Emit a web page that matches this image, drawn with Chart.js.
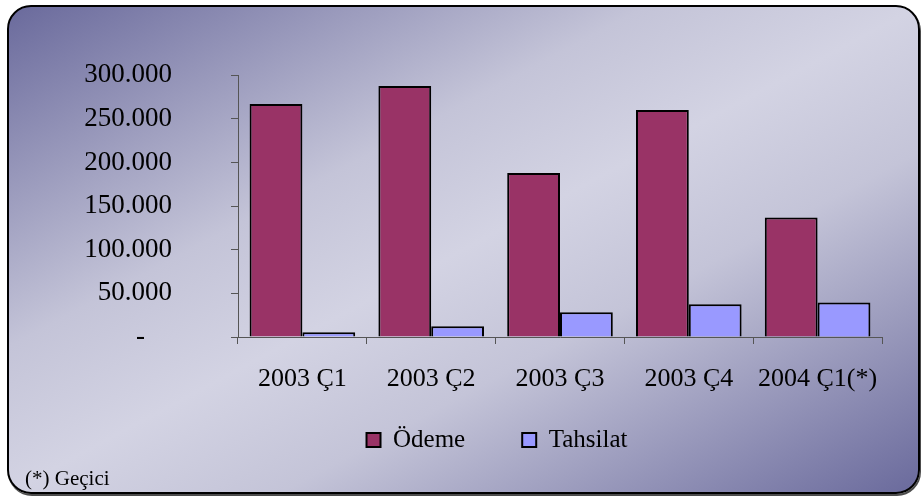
<!DOCTYPE html>
<html>
<head>
<meta charset="utf-8">
<script src="https://cdn.jsdelivr.net/npm/chart.js@4"></script>
<style>
  body { margin: 0; width: 921px; height: 498px; background: #fff; overflow: hidden; }
  #frame {
    position: absolute; left: 7px; top: 5px; width: 909px; height: 485px;
    border: 2px solid #000; border-radius: 24px;
    box-shadow: 1px 2px 0 rgba(0,0,0,0.7);
    background: linear-gradient(to bottom right, #6a6a9c 0%, #c4c4d8 35%, #d3d3e3 50%, #c4c4d8 65%, #6a6a9c 100%);
  }
  #wrap { position: absolute; left: 0; top: 0; width: 921px; height: 498px; }
</style>
</head>
<body>
<div id="frame"></div>
<div id="wrap"><canvas id="chart" width="921" height="498"></canvas></div>
<script>
var quarters = ['2003 Ç1', '2003 Ç2', '2003 Ç3', '2003 Ç4', '2004 Ç1(*)'];
var odeme = [267000, 287500, 188000, 260000, 137000];
var tahsilat = [5300, 12200, 28300, 37600, 39600];
var seriesNames = ['Ödeme', 'Tahsilat'];
var footNote = '(*) Geçici';

function formatTr(v) {
  if (v === 0) return '-    ';
  return v.toString().replace(/\B(?=(\d{3})+(?!\d))/g, '.');
}

var serif = "'Liberation Serif', 'Times New Roman', serif";

// legend sits a bit to the right of centre and closer to the axis than the default stacking allows
var legendMove = {
  id: 'legendMove',
  afterLayout: function(chart) {
    var lg = chart.legend;
    if (!lg) return;
    var h = lg.bottom - lg.top;
    lg.top = 370.5;
    lg.bottom = lg.top + h;
    lg.left += 56;
    lg.right += 56;
  }
};

var footNotePlugin = {
  id: 'footNote',
  afterDraw: function(chart) {
    var ctx = chart.ctx;
    ctx.save();
    ctx.font = "21px " + serif;
    ctx.fillStyle = '#000';
    ctx.textAlign = 'left';
    ctx.textBaseline = 'alphabetic';
    ctx.fillText(footNote, 25, 485);
    ctx.restore();
  }
};

var ctx = document.getElementById('chart').getContext('2d');
new Chart(ctx, {
  type: 'bar',
  data: {
    labels: quarters,
    datasets: [
      {
        label: seriesNames[0],
        data: odeme,
        backgroundColor: '#993366',
        borderColor: '#000',
        borderWidth: 2,
        categoryPercentage: 0.82,
        barPercentage: 1
      },
      {
        label: seriesNames[1],
        data: tahsilat,
        backgroundColor: '#9999ff',
        borderColor: '#000',
        borderWidth: 2,
        categoryPercentage: 0.82,
        barPercentage: 1
      }
    ]
  },
  options: {
    responsive: false,
    animation: false,
    layout: { padding: { top: 75, right: 39, left: 0, bottom: 9 } },
    plugins: {
      legend: {
        position: 'bottom',
        labels: {
          font: { family: serif, size: 25 },
          color: '#000',
          boxWidth: 14,
          boxHeight: 14,
          padding: 57
        }
      },
      tooltip: { enabled: false }
    },
    scales: {
      x: {
        afterFit: function(scale) { scale.height = 60; },
        grid: { drawOnChartArea: false, drawTicks: true, tickLength: 7, color: '#555', offset: true },
        border: { display: true, color: '#555', width: 1 },
        ticks: { color: '#000', padding: 20, font: { family: serif, size: 26 }, maxRotation: 0, autoSkip: false }
      },
      y: {
        min: 0,
        max: 300000,
        afterFit: function(scale) { scale.width = 238; },
        grid: { drawOnChartArea: false, drawTicks: true, tickLength: 7, color: '#555' },
        border: { display: true, color: '#555', width: 1 },
        ticks: {
          stepSize: 50000,
          color: '#000',
          padding: 59,
          font: { family: serif, size: 27 },
          callback: function(v) { return formatTr(v); }
        }
      }
    }
  },
  plugins: [legendMove, footNotePlugin]
});
</script>
</body>
</html>
